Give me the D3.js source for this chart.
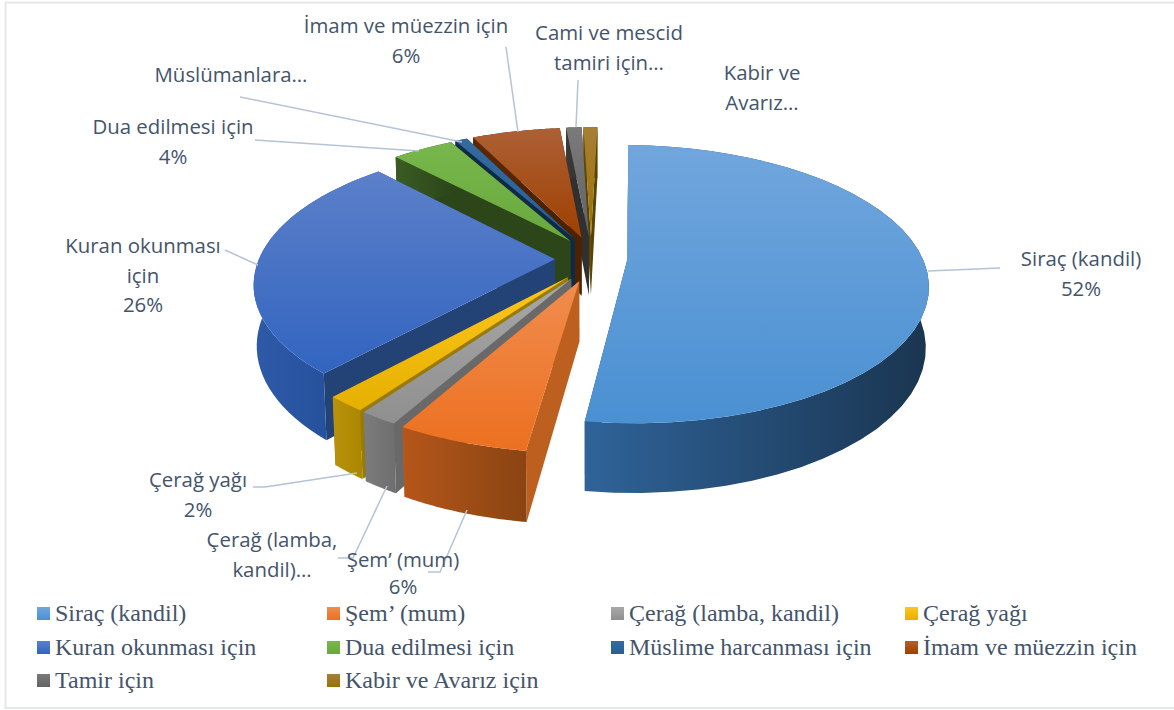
<!DOCTYPE html>
<meta charset="utf-8">
<title>Kandil vakıf harcamaları</title>
<style>
html, body { margin: 0; background: white; }
svg { display: block; }
.lbl { font: 20.4px "Open Sans"; fill: #44546a; text-anchor: middle; }
.leg { font: 24px "Liberation Serif"; fill: #44546a; }
.leader { fill: none; stroke: #b4c3d6; stroke-width: 1.5px; }
</style>
<body>
<script src="https://d3js.org/d3.v7.min.js"></script>
<script>
// values (percent)
const names = ["Siraç (kandil)", "Şem’ (mum)", "Çerağ (lamba, kandil)", "Çerağ yağı", "Kuran okunması için",
  "Dua edilmesi için", "Müslime harcanması için", "İmam ve müezzin için", "Tamir için", "Kabir ve Avarız için"];
const values = [51.8, 5.9, 1.75, 1.8, 26.35, 4.0, 0.8, 5.7, 1.0, 0.9];

// slice labels, as wrapped in the chart ("…" is what the chart shows)
const labelLines = [
  ["Siraç (kandil)"], ["Şem’ (mum)"], ["Çerağ (lamba,", "kandil)…"], ["Çerağ yağı"], ["Kuran okunması", "için"],
  ["Dua edilmesi için"], ["Müslümanlara…"], ["İmam ve müezzin için"], ["Cami ve mescid", "tamiri için…"], ["Kabir ve", "Avarız…"]
];
const showPercent = [true, true, false, true, true, true, false, true, false, false];

// styling: top light, top base, wall left, wall right, cut face
const colors = [
  ["#71a6dd", "#4a90d2", "#2f6399", "#1a3550", "#1e3f60"],
  ["#f08c4e", "#ec7020", "#b5561a", "#8a4412", "#bd5f1e"],
  ["#a8a8a8", "#8f8f8f", "#7c7c7c", "#6e6e6e", "#696969"],
  ["#fcc61e", "#e6b000", "#b8920a", "#ab8600", "#9b7a00"],
  ["#5c80c9", "#3264c0", "#2f5aa8", "#1d4a94", "#234276"],
  ["#78b74c", "#68a83c", "#3a5c22", "#2c4619", "#2c4619"],
  ["#366a9e", "#265f96", "#12304f", "#0f2a47", "#0f2a47"],
  ["#ad6036", "#9e4000", "#5c2800", "#4e2100", "#4e2100"],
  ["#7a7a7a", "#636363", "#3a3a3a", "#303030", "#303030"],
  ["#a87e35", "#997300", "#634a00", "#5a4300", "#5a4300"]
];

// leader lines and label spots, in page pixels
const labelSpots = [
  {x: 1081, y: 266, line: [[928, 271], [1000, 268]]},
  {x: 403, y: 567, gap: 27, line: [[467, 510], [440, 572], [428, 572]]},
  {x: 272, y: 547, line: [[387, 486], [353, 558], [338, 558]]},
  {x: 198, y: 487, line: [[357, 473], [265, 487], [253, 487]]},
  {x: 143, y: 253, line: [[258, 265], [225, 250]]},
  {x: 173, y: 134, line: [[419, 151], [255, 140]]},
  {x: 231, y: 82, line: [[462, 142], [240, 97]]},
  {x: 406, y: 33, line: [[518, 132], [506, 47]]},
  {x: 609, y: 40, line: [[576, 127], [578, 80]]},
  {x: 762, y: 80, line: null}
];

const width = 1174, height = 710;
const cx = 591, cy = 259, R = 296, tilt = 0.455, depth = 6, thick = 60, sink = 0.0009;
const explodeX = 36, explodeY = 50;
const rotation = 1.5 * Math.PI / 180;

const svg = d3.select("body").append("svg").attr("width", width).attr("height", height);
const defs = svg.append("defs");

// frame runs off the right edge in the reference
svg.append("rect").attr("x", 5.5).attr("y", 2.5).attr("width", 1180).attr("height", 705.5)
  .attr("fill", "white").attr("stroke", "#e3e8eb").attr("stroke-width", 2);

function grad(id, c0, c1, vertical) {
  const g = defs.append("linearGradient").attr("id", id)
    .attr("x1", 0).attr("y1", 0).attr("x2", vertical ? 0 : 1).attr("y2", vertical ? 1 : 0);
  g.append("stop").attr("offset", 0).attr("stop-color", c0);
  g.append("stop").attr("offset", 1).attr("stop-color", c1);
}
colors.forEach((c, i) => {
  grad("top" + i, c[0], c[1], true);
  grad("wall" + i, c[2], c[3], false);
});

// ground plane to page, gy grows towards the back, z is how far down
function project(gx, gy, z) {
  const s = depth / (depth + gy / R + z * sink);
  return [cx + gx * s, cy + (z - gy * tilt) * s];
}

const pie = d3.pie().sort(null).startAngle(rotation).endAngle(rotation + 2 * Math.PI);
const arcs = pie(values);

function sliceGeometry(a) {
  const mid = (a.startAngle + a.endAngle) / 2;
  const ox = explodeX * Math.sin(mid), oy = explodeY * Math.cos(mid);
  const steps = d3.range(0, 41).map(t => a.startAngle + (a.endAngle - a.startAngle) * t / 40);
  const rim = steps.map(t => [ox + R * Math.sin(t), oy + R * Math.cos(t)]);
  const at = (p, z) => project(p[0], p[1], z);
  const apex = [ox, oy];
  return {
    top: [at(apex, 0)].concat(rim.map(p => at(p, 0))),
    wall: rim.map(p => at(p, 0)).concat(rim.slice().reverse().map(p => at(p, thick))),
    cutA: [at(apex, 0), at(rim[0], 0), at(rim[0], thick), at(apex, thick)],
    cutB: [at(apex, 0), at(rim[40], 0), at(rim[40], thick), at(apex, thick)],
    depthKey: oy + R * 0.6 * Math.cos(mid)
  };
}

const line = d3.line();
const slices = arcs.map((a, i) => Object.assign({i: i}, sliceGeometry(a)))
  .sort((p, q) => q.depthKey - p.depthKey);

// back slices first, each one cut faces, rim, then top
const sliceG = svg.selectAll("g.slice").data(slices).enter().append("g").attr("class", "slice");
sliceG.append("path").attr("d", d => line(d.cutA) + "Z").attr("fill", d => colors[d.i][4]);
sliceG.append("path").attr("d", d => line(d.cutB) + "Z").attr("fill", d => colors[d.i][4]);
sliceG.append("path").attr("d", d => line(d.wall) + "Z").attr("fill", d => "url(#wall" + d.i + ")");
sliceG.append("path").attr("d", d => line(d.top) + "Z").attr("fill", d => "url(#top" + d.i + ")");

// leaders
svg.selectAll("path.leader").data(labelSpots.filter(d => d.line)).enter().append("path")
  .attr("class", "leader").attr("d", d => line(d.line));

// labels
const total = d3.sum(values);
names.forEach((n, i) => {
  const rows = labelLines[i].slice();
  if (showPercent[i]) rows.push(Math.round(values[i] / total * 100) + "%");
  const t = svg.append("text").attr("class", "lbl")
    .attr("x", labelSpots[i].x).attr("y", labelSpots[i].y);
  rows.forEach((r, j) => t.append("tspan").attr("x", labelSpots[i].x).attr("dy", j ? (labelSpots[i].gap || 29.5) : 0).text(r));
});

// legend
const legCols = [37, 327, 611, 905], legRows = [614, 648, 681];
const legend = svg.selectAll("g.leg").data(names).enter().append("g").attr("class", "leg")
  .attr("transform", (d, i) => "translate(" + legCols[i % 4] + "," + legRows[Math.floor(i / 4)] + ")");
legend.append("rect").attr("x", 0).attr("y", -7).attr("width", 13).attr("height", 13)
  .attr("fill", (d, i) => "url(#top" + i + ")");
legend.append("text").attr("x", 18).attr("y", 7).text(d => d);
</script>
</body>
